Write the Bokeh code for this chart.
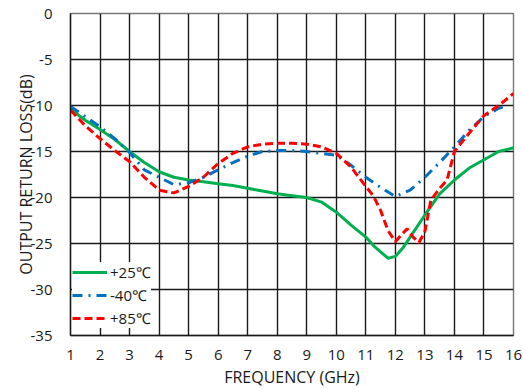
from bokeh.plotting import figure
from bokeh.models import FixedTicker, Range1d, Legend, LegendItem, PrintfTickFormatter
from bokeh.embed import file_html
from bokeh.resources import INLINE

x_ticks = list(range(1, 17))
y_ticks = [-35, -30, -25, -20, -15, -10, -5, 0]

f_25 = [1, 1.5, 2, 2.5, 3, 3.5, 4, 4.5, 5, 5.5, 6, 6.5, 7, 7.5, 8, 8.5, 9, 9.5, 10,
        10.5, 11, 11.25, 11.5, 11.75, 12, 12.25, 12.5, 13, 13.5, 14, 14.5, 15, 15.5, 16]
rl_25 = [-10.4, -11.6, -12.6, -13.7, -15.0, -16.2, -17.2, -17.8, -18.1, -18.3, -18.5, -18.7, -19.0, -19.3, -19.6, -19.8, -20.0, -20.5, -21.6,
         -23.0, -24.3, -25.2, -25.9, -26.6, -26.4, -25.5, -24.3, -21.9, -19.6, -18.1, -16.8, -15.9, -15.0, -14.6]

f_m40 = [1, 1.5, 2, 2.5, 3, 3.5, 4, 4.5, 5, 5.5, 6, 6.5, 7, 7.5, 8, 8.5, 9, 9.5, 10,
         10.5, 11, 11.5, 12, 12.5, 13, 13.5, 14, 14.5, 15, 15.5, 15.8]
rl_m40 = [-10.1, -11.2, -12.3, -13.6, -15.1, -17.0, -17.8, -18.6, -18.4, -17.8, -17.0, -16.2, -15.5, -15.0, -14.9, -14.9, -15.0, -15.2, -15.4,
          -16.5, -17.8, -18.9, -19.9, -19.2, -17.8, -16.2, -14.5, -12.7, -11.2, -10.3, -10.0]

f_85 = [1, 1.5, 2, 2.5, 3, 3.5, 4, 4.5, 5, 5.5, 6, 6.5, 7, 7.5, 8, 8.5, 9, 9.5, 10,
        10.5, 11, 11.25, 11.5, 11.75, 12, 12.25, 12.4, 12.6, 12.8, 13, 13.2, 13.5, 13.75, 14, 14.5, 15, 15.5, 16]
rl_85 = [-10.5, -12.2, -13.6, -14.9, -16.1, -17.8, -19.2, -19.5, -18.8, -17.8, -16.3, -15.2, -14.5, -14.2, -14.1, -14.1, -14.2, -14.5, -15.2,
         -16.7, -18.8, -19.8, -21.4, -23.6, -24.8, -23.9, -23.4, -24.3, -24.9, -23.7, -20.3, -19.0, -18.1, -15.0, -13.0, -11.1, -10.0, -8.7]

labels = ["+25\u2103", "-40\u2103", "+85\u2103"]

FONT = "Open Sans"

p = figure(width=523, height=389, output_backend="svg", toolbar_location=None,
           x_range=Range1d(1, 16), y_range=Range1d(-35, 0),
           min_border_left=70, min_border_right=10, min_border_top=13, min_border_bottom=54)
p.frame_width = 443
p.frame_height = 322

p.xaxis.ticker = FixedTicker(ticks=x_ticks)
p.yaxis.ticker = FixedTicker(ticks=y_ticks)
p.xaxis.formatter = PrintfTickFormatter(format="%d")
p.yaxis.formatter = PrintfTickFormatter(format="%d")
p.xgrid.ticker = FixedTicker(ticks=x_ticks)
p.ygrid.ticker = FixedTicker(ticks=y_ticks)
for g in (p.xgrid, p.ygrid):
    g.grid_line_color = "#1a1a1a"
    g.grid_line_width = 1.4
    g.grid_line_alpha = 1.0

for ax in (p.xaxis, p.yaxis):
    ax.major_tick_line_color = None
    ax.minor_tick_line_color = None
    ax.axis_line_color = "#1a1a1a"
    ax.axis_line_width = 1.4
    ax.major_label_text_font = FONT
    ax.major_label_text_font_size = "15px"
    ax.major_label_text_color = "#1a1a1a"
    ax.axis_label_text_font = FONT
    ax.axis_label_text_font_size = "16px"
    ax.axis_label_text_font_style = "normal"
    ax.axis_label_text_color = "#1a1a1a"

p.xaxis.axis_label = "FREQUENCY (GHz)"
p.yaxis.axis_label = "OUTPUT RETURN LOSS(dB)"
p.xaxis.major_label_standoff = 8
p.yaxis.major_label_standoff = 12
p.xaxis.axis_label_standoff = 3
p.yaxis.axis_label_standoff = -9

p.outline_line_color = "#777777"
p.outline_line_width = 1.4

r1 = p.line(f_25, rl_25, line_color="#00B050", line_width=3)
r2 = p.line(f_m40, rl_m40, line_color="#0070C0", line_width=3, line_dash="10 6 2 6")
r3 = p.line(f_85, rl_85, line_color="#FF0000", line_width=3, line_dash="8 4")

legend = Legend(items=[LegendItem(label=labels[0], renderers=[r1]),
                       LegendItem(label=labels[1], renderers=[r2]),
                       LegendItem(label=labels[2], renderers=[r3])],
                location=(2, 7))
legend.margin = 0
legend.padding = 4
legend.spacing = 3
legend.glyph_width = 35
legend.glyph_height = 20
legend.label_standoff = 3
legend.label_text_font = FONT
legend.label_text_font_size = "15px"
legend.label_text_color = "#1a1a1a"
legend.border_line_color = None
legend.background_fill_color = "white"
legend.background_fill_alpha = 1.0
p.add_layout(legend)

open("out.html", "w").write(file_html(p, INLINE))
